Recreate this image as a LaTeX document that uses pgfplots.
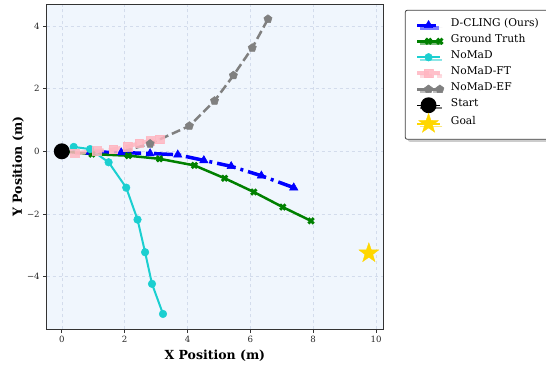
\documentclass[border=0pt]{standalone}
\usepackage{fontspec}
\setmainfont{DejaVu Serif}
\usepackage{pgfplots}
\pgfplotsset{compat=1.18}
\usetikzlibrary{plotmarks,shadows}
\definecolor{bgc}{HTML}{F0F6FD}
\definecolor{gridc}{HTML}{D3DCEC}
\definecolor{cyanc}{HTML}{1BCFD0}
\definecolor{pinkc}{HTML}{FFB6C1}
\definecolor{goldc}{HTML}{FFD700}
\definecolor{grayc}{HTML}{808080}
\definecolor{greenc}{HTML}{008000}
\definecolor{bluec}{HTML}{0000FF}
\pgfdeclareplotmark{fstar}{%
  \pgfpathmoveto{\pgfpointpolar{90}{\pgfplotmarksize}}%
  \pgfpathlineto{\pgfpointpolar{126}{0.4\pgfplotmarksize}}%
  \pgfpathlineto{\pgfpointpolar{162}{\pgfplotmarksize}}%
  \pgfpathlineto{\pgfpointpolar{198}{0.4\pgfplotmarksize}}%
  \pgfpathlineto{\pgfpointpolar{234}{\pgfplotmarksize}}%
  \pgfpathlineto{\pgfpointpolar{270}{0.4\pgfplotmarksize}}%
  \pgfpathlineto{\pgfpointpolar{306}{\pgfplotmarksize}}%
  \pgfpathlineto{\pgfpointpolar{342}{0.4\pgfplotmarksize}}%
  \pgfpathlineto{\pgfpointpolar{18}{\pgfplotmarksize}}%
  \pgfpathlineto{\pgfpointpolar{54}{0.4\pgfplotmarksize}}%
  \pgfpathclose
  \pgfusepathqfillstroke}
\begin{document}
\begin{tikzpicture}
\begin{axis}[
  scale only axis, width=336.3bp, height=325.3bp,
  xmin=-0.48, xmax=10.22, ymin=-5.68, ymax=4.70,
  axis background/.style={fill=bgc},
  axis line style={draw=black!80, line width=0.8bp},
  grid=major, grid style={dashed, gridc, line width=0.5bp},
  xtick={0,2,4,6,8,10}, ytick={-4,-2,0,2,4},
  xticklabels={0,2,4,6,8,10}, yticklabels={−4,−2,0,2,4},
  tick pos=left, tick align=outside, major tick length=3.5bp,
  tick style={black!80, line width=0.8bp},
  tick label style={font=\fontsize{8.6bp}{10bp}\selectfont, text=black!85},
  xlabel={\textbf{X Position (m)}}, ylabel={\textbf{Y Position (m)}},
  label style={font=\fontsize{12.5bp}{14bp}\selectfont},
  xlabel style={at={(axis description cs:0.5,-0.08)}, anchor=center},
  ylabel style={at={(axis description cs:-0.085,0.5)}, anchor=center},
  legend image code/.code={\draw[mark repeat=2,mark phase=2] plot coordinates {(0bp,0bp) (11.3bp,0bp) (22.6bp,0bp)};},
  legend style={at={(1.065,0.982)}, anchor=north west, draw=black!75, line width=0.8bp,
    rounded corners=2bp, fill=white, drop shadow={shadow xshift=2.5bp, shadow yshift=-2.5bp, fill=black!40},
    font=\fontsize{10.7bp}{12bp}\selectfont, inner xsep=10bp, inner ysep=7bp,
    row sep=0bp, column sep=7bp,
    nodes={inner sep=0bp, text height=9bp, text depth=7bp}},
  legend cell align=left,
]
\addplot[bluec, line width=3.5bp, dash pattern=on 19bp off 5bp on 3bp off 5bp,
  mark=triangle*, mark size=4.8bp, mark options={solid, line width=0.5bp}] coordinates {
  (0.90,-0.02) (1.89,-0.04) (2.81,-0.07) (3.69,-0.11) (4.52,-0.29) (5.39,-0.48) (6.35,-0.78) (7.38,-1.16)};
\addlegendentry{D-CLING (Ours)}
\addplot[greenc, line width=2.5bp, mark=x, mark size=3.8bp, mark indices={2,...,9},
  mark options={solid, line width=2.8bp}] coordinates {
  (0,0) (0.96,-0.09) (2.12,-0.14) (3.11,-0.24) (4.22,-0.45) (5.18,-0.86) (6.11,-1.30) (7.03,-1.78) (7.93,-2.22)};
\addlegendentry{Ground Truth}
\addplot[cyanc, line width=2bp, mark=*, mark size=3.8bp, mark options={solid, line width=0.5bp}] coordinates {
  (0.38,0.14) (0.90,0.07) (1.49,-0.35) (2.05,-1.16) (2.41,-2.18) (2.65,-3.22) (2.87,-4.23) (3.22,-5.19)};
\addlegendentry{NoMaD}
\addplot[pinkc, line width=4bp, dash pattern=on 12bp off 5bp, opacity=0.85,
  mark=square*, mark size=4.3bp, mark options={solid, line width=0.5bp}] coordinates {
  (0.42,-0.06) (1.11,0.01) (1.64,0.06) (2.09,0.15) (2.46,0.26) (2.81,0.33) (3.11,0.38)};
\addlegendentry{NoMaD-FT}
\addplot[grayc, line width=2.5bp, dash pattern=on 9bp off 4bp,
  mark=pentagon*, mark size=4.3bp, mark indices={2,...,7}, mark options={solid, line width=0.5bp}] coordinates {
  (1.95,0.00) (2.81,0.24) (4.06,0.81) (4.86,1.61) (5.46,2.42) (6.06,3.30) (6.56,4.22)};
\addlegendentry{NoMaD-EF}
\addplot[black, line width=1.5bp, mark=*, mark size=7.2bp] coordinates {(0,0)};
\addlegendentry{Start}
\addplot[goldc, line width=1.5bp, mark=fstar, mark size=10.5bp, mark options={line width=0.3bp}] coordinates {(9.77,-3.25)};
\addlegendentry{Goal}
\end{axis}
\pgfresetboundingbox
\path[use as bounding box] (-46.7bp,-38.7bp) rectangle (499.3bp,329.3bp);
\end{tikzpicture}
\end{document}
